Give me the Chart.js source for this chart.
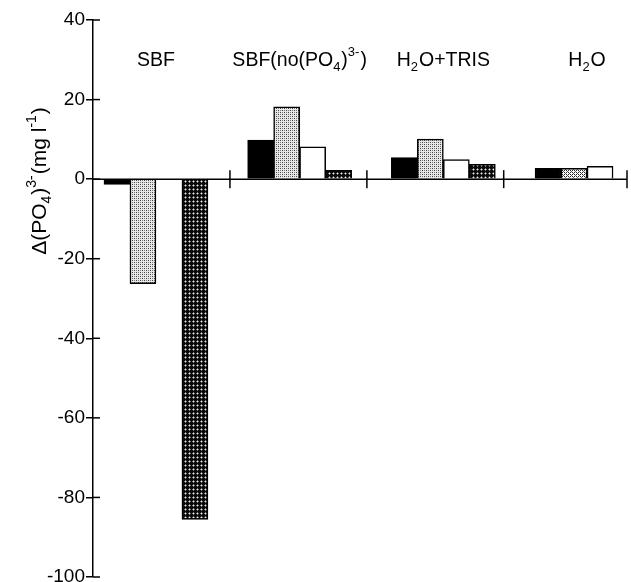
<!DOCTYPE html>
<html><head><meta charset="utf-8">
<script src="https://cdn.jsdelivr.net/npm/chart.js@4/dist/chart.umd.min.js"></script>
<style>html,body{margin:0;padding:0;background:#fff;}canvas{display:block;}</style>
</head><body>
<canvas id="c" width="631" height="582"></canvas>
<script>
// ---- data ----
const categories = ['SBF', 'SBF(no(PO_{4})^{3-})', 'H_{2}O+TRIS', 'H_{2}O'];
const seriesA = [-1.3, 9.8, 5.4, 2.7];     // solid black
const seriesB = [-26.3, 18.2, 10.1, 2.7];  // stippled grey
const seriesC = [null, 8.1, 4.9, 3.2];     // white
const seriesD = [-85.5, 2.2, 3.7, null];   // dark cross-hatch
const yTicks = [40, 20, 0, -20, -40, -60, -80, -100];
const yTitle = 'Δ(PO_{4})^{3-}(mg l^{-1})';
const groupSeparators = [0.515, 1.468, 2.42, 3.278];

const FONT = '"Liberation Sans", Arial, Helvetica, sans-serif';

function makePattern(size, draw) {
  const c = document.createElement('canvas');
  c.width = size; c.height = size;
  const g = c.getContext('2d');
  draw(g);
  return document.getElementById('c').getContext('2d').createPattern(c, 'repeat');
}
const stipple = makePattern(4, g => {
  g.fillStyle = '#e8e8e8'; g.fillRect(0, 0, 4, 4);
  g.fillStyle = '#444'; g.fillRect(0, 0, 1, 1); g.fillRect(2, 2, 1, 1);
  g.fillStyle = '#777'; g.fillRect(2, 0, 1, 1); g.fillRect(0, 2, 1, 1);
});
const xhatch = makePattern(4, g => {
  g.fillStyle = '#0a0a0a'; g.fillRect(0, 0, 4, 4);
  g.fillStyle = '#eee'; g.fillRect(1, 1, 1, 1);
  g.fillStyle = '#777'; g.fillRect(0, 1, 1, 1); g.fillRect(2, 1, 1, 1); g.fillRect(1, 0, 1, 1); g.fillRect(1, 2, 1, 1);
});
const diagX = makePattern(4, g => {
  g.fillStyle = '#fff'; g.fillRect(0, 0, 4, 4);
  g.fillStyle = '#222'; g.fillRect(0, 0, 1, 1); g.fillRect(2, 2, 1, 1); g.fillRect(2, 0, 1, 1); g.fillRect(0, 2, 1, 1);
  g.fillStyle = '#666'; g.fillRect(1, 1, 1, 1); g.fillRect(3, 3, 1, 1);
});

function pts(arr) { return arr.map((v, i) => ({ x: i, y: v })); }

function parseRich(s) {
  const out = []; const re = /([_^])\{([^}]*)\}|([^_^]+)/g; let m;
  while ((m = re.exec(s))) {
    if (m[3]) out.push({ t: m[3], k: 0 });
    else out.push({ t: m[2], k: m[1] === '_' ? -1 : 1 });
  }
  return out;
}
function drawRich(ctx, s, x, y, size, align) {
  const segs = parseRich(s);
  const small = Math.round(size * 0.66);
  let w = 0;
  segs.forEach(sg => { ctx.font = (sg.k ? small : size) + 'px ' + FONT; sg.w = ctx.measureText(sg.t).width + (sg.k ? 1 : 0); w += sg.w; });
  let cx = align === 'center' ? x - w / 2 : x;
  ctx.textAlign = 'left'; ctx.textBaseline = 'alphabetic'; ctx.fillStyle = '#000';
  segs.forEach(sg => {
    ctx.font = (sg.k ? small : size) + 'px ' + FONT;
    const dy = sg.k === -1 ? size * 0.25 : sg.k === 1 ? -size * 0.5 : 0;
    ctx.fillText(sg.t, cx, y + dy);
    cx += sg.w;
  });
}

const decor = {
  id: 'decor',
  afterDatasetsDraw(chart) {
    const ctx = chart.ctx, xs = chart.scales.x, ys = chart.scales.y, a = chart.chartArea;
    const y0 = ys.getPixelForValue(0);
    ctx.save();
    ctx.strokeStyle = '#000'; ctx.lineWidth = 1.5;
    ctx.beginPath(); ctx.moveTo(a.left, y0); ctx.lineTo(a.right, y0); ctx.stroke();
    groupSeparators.forEach(v => {
      const px = xs.getPixelForValue(v);
      ctx.beginPath(); ctx.moveTo(px, y0 - 9); ctx.lineTo(px, y0 + 9); ctx.stroke();
    });
    yTicks.forEach(v => {
      const py = ys.getPixelForValue(v);
      ctx.beginPath(); ctx.moveTo(a.left, py); ctx.lineTo(a.left + 7, py); ctx.stroke();
    });
    categories.forEach((c, i) => drawRich(ctx, c, xs.getPixelForValue(i), 66, 19.5, 'center'));
    ctx.translate(0, 181); ctx.rotate(-Math.PI / 2);
    drawRich(ctx, yTitle, 0, 46, 21, 'center');
    ctx.restore();
  }
};

const ds = (data, bg) => ({ data: pts(data), backgroundColor: bg, borderColor: '#000', borderWidth: 1.5, barThickness: 26 });

new Chart(document.getElementById('c'), {
  type: 'bar',
  data: {
    datasets: [
      ds(seriesA, '#000'),
      ds(seriesB, [stipple, stipple, stipple, diagX]),
      ds(seriesC, '#fff'),
      ds(seriesD, xhatch)
    ]
  },
  options: {
    responsive: false, animation: false, devicePixelRatio: 1,
    layout: { padding: { top: 20, bottom: 5, right: 4, left: 0 } },
    plugins: { legend: { display: false }, tooltip: { enabled: false } },
    scales: {
      x: { type: 'linear', display: false, offset: false, min: -0.438, max: 3.278 },
      y: {
        min: -100, max: 40,
        afterBuildTicks: s => { s.ticks = yTicks.map(v => ({ value: v })); },
        afterFit: s => { s.width = 93; s.paddingTop = 0; s.paddingBottom = 0; },
        border: { display: true, color: '#000', width: 1.5 },
        grid: { drawOnChartArea: false, drawTicks: true, tickLength: 7, color: '#000', lineWidth: 1.5 },
        ticks: { color: '#000', font: { family: FONT, size: 19 }, padding: 1 }
      }
    }
  },
  plugins: [decor]
});
</script>
</body></html>
